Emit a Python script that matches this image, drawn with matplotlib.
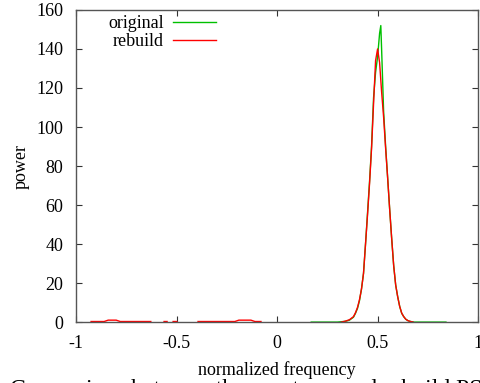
import numpy as np
import matplotlib
matplotlib.use('Agg')
import matplotlib.pyplot as plt

plt.rcParams['font.family'] = ['Liberation Serif', 'DejaVu Serif']

nan = np.nan

# original spectrum (green)
f_orig = [0.17, 0.30, 0.34, 0.36, 0.38, 0.39, 0.40, 0.41, 0.42, 0.43, 0.44, 0.45,
          0.46, 0.47, 0.48, 0.49, 0.50, 0.51, 0.516, 0.52, 0.53, 0.54, 0.55, 0.56,
          0.57, 0.58, 0.59, 0.60, 0.61, 0.62, 0.63, 0.64, 0.65, 0.66, 0.68, 0.84]
p_orig = [0.0, 0.0, 0.4, 1.0, 2.5, 4.5, 7, 11, 17, 25, 40, 56,
          72, 90, 115, 128, 136, 148, 152, 140, 108, 90, 74, 58,
          43, 29, 19, 13, 8, 4.5, 2.8, 1.5, 0.8, 0.4, 0.0, 0.0]

# rebuild PSD (red), segments separated by nan
f_rebuild = [-0.925, -0.86, -0.84, -0.80, -0.78, -0.628, nan,
             -0.562, -0.547, nan, -0.517, -0.498, nan,
             -0.393, -0.21, -0.19, -0.13, -0.11, -0.08, nan,
             0.32, 0.34, 0.36, 0.38, 0.39, 0.40, 0.41, 0.42, 0.43, 0.44, 0.45,
             0.46, 0.47, 0.48, 0.49, 0.50, 0.51, 0.52, 0.53, 0.54, 0.55, 0.56,
             0.57, 0.58, 0.59, 0.60, 0.61, 0.62, 0.63, 0.64, 0.65, 0.66, 0.677]
p_rebuild = [0.3, 0.3, 1.0, 1.0, 0.3, 0.3, nan,
             0.3, 0.3, nan, 0.3, 0.3, nan,
             0.3, 0.3, 1.0, 1.0, 0.3, 0.3, nan,
             0.0, 0.5, 1.2, 2.8, 4.8, 7.5, 11.5, 17, 25, 40, 55,
             71, 89, 112, 134, 140, 133, 118, 105, 89, 74, 58,
             43, 29, 19, 13, 8, 4.6, 2.8, 1.5, 0.8, 0.4, 0.0]

xticks = [-1, -0.5, 0, 0.5, 1]
xticklabels = ['-1', '-0.5', '0', '0.5', '1']
yticks = [0, 20, 40, 60, 80, 100, 120, 140, 160]

fig = plt.figure(figsize=(4.81, 3.83), dpi=100)
ax = fig.add_axes([0.158, 0.159, 0.836, 0.815])

ax.plot(f_orig, p_orig, color='#00c000', lw=1.0, label='original')
ax.plot(f_rebuild, p_rebuild, color='#ff0000', lw=1.0, label='rebuild')

ax.set_xlim(-1, 1)
ax.set_ylim(0, 160)
ax.set_xticks(xticks)
ax.set_xticklabels(xticklabels)
ax.set_yticks(yticks)
ax.tick_params(direction='in', top=True, right=True, length=4, width=0.8,
               labelsize=13, color='#333333', pad=9)
for s in ax.spines.values():
    s.set_color('#555555')
    s.set_linewidth(1.0)

ax.set_xlabel('normalized frequency', fontsize=13, labelpad=7)
ax.set_ylabel('power', fontsize=13, labelpad=5)

leg = ax.legend(loc='upper left', bbox_to_anchor=(0.062, 1.006), frameon=False,
                fontsize=13, markerfirst=False, handlelength=2.4,
                handletextpad=0.5, labelspacing=0.05, borderaxespad=0.0)
for t in leg.get_texts():
    t.set_ha('right')
leg._legend_box.align = 'right'

fig.text(0.02, 0.011, 'Comparison between the spectrum and rebuild PSD',
         fontsize=17, va='top', ha='left')

fig.savefig('out.png', dpi=100)
